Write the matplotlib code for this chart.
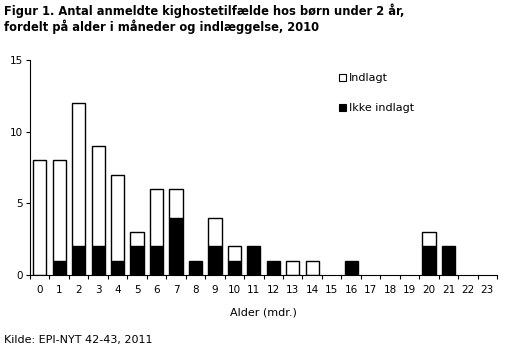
import numpy as np
import matplotlib
matplotlib.use('Agg')
import matplotlib.pyplot as plt
from matplotlib.patches import Patch

ages = list(range(24))
ikke_indlagt = [0, 1, 2, 2, 1, 2, 2, 4, 1, 2, 1, 2, 1, 0, 0, 0, 1, 0, 0, 0, 2, 2, 0, 0]
indlagt = [8, 7, 10, 7, 6, 1, 4, 2, 0, 2, 1, 0, 0, 1, 1, 0, 0, 0, 0, 0, 1, 0, 0, 0]

plt.rcParams['font.family'] = 'DejaVu Sans'
fig = plt.figure(figsize=(5.13, 3.52), dpi=100)
ax = fig.add_axes([0.0585, 0.219, 0.9105, 0.611])

x = np.array(ages)
b = np.array(ikke_indlagt)
t = np.array(indlagt)
w = 0.68
# skip zero-height bars so no stray outlines on the axis
mb = b > 0
mt = t > 0
ax.bar(x[mb], b[mb], width=w, color='black', edgecolor='black', linewidth=1)
ax.bar(x[mt], t[mt], width=w, bottom=b[mt], color='white', edgecolor='black', linewidth=1)

ax.set_xlim(-0.5, 23.5)
ax.set_ylim(0, 15)
ax.set_yticks([0, 5, 10, 15])
ax.set_xticks(np.arange(-0.5, 24, 1))
ax.set_xticklabels([])
ax.set_xticks(x, minor=True)
ax.set_xticklabels([str(a) for a in ages], minor=True)
ax.tick_params(axis='x', which='minor', length=0, labelsize=7.5, pad=7)
ax.tick_params(axis='x', which='major', length=3, width=0.8)
ax.tick_params(axis='y', length=3, width=0.8, labelsize=7.5, pad=2)
for s in ['top', 'right']:
    ax.spines[s].set_visible(False)
for s in ['left', 'bottom']:
    ax.spines[s].set_linewidth(0.8)
ax.set_xlabel('Alder (mdr.)', fontsize=8, labelpad=9)

handles = [Patch(facecolor='white', edgecolor='black', linewidth=0.8, label='Indlagt'),
           Patch(facecolor='black', edgecolor='black', linewidth=0.8, label='Ikke indlagt')]
ax.legend(handles=handles, loc='upper left', bbox_to_anchor=(0.64, 0.985), frameon=False,
          fontsize=8, handlelength=0.6, handleheight=0.6, handletextpad=0.3, labelspacing=1.8)

fig.text(0.008, 0.99, 'Figur 1. Antal anmeldte kighostetilfælde hos børn under 2 år,\nfordelt på alder i måneder og indlæggelse, 2010',
         fontsize=8.3, fontweight='bold', va='top', ha='left', linespacing=1.15)
fig.text(0.008, 0.02, 'Kilde: EPI-NYT 42-43, 2011', fontsize=8, va='bottom', ha='left')

fig.savefig('out.png', dpi=100)
